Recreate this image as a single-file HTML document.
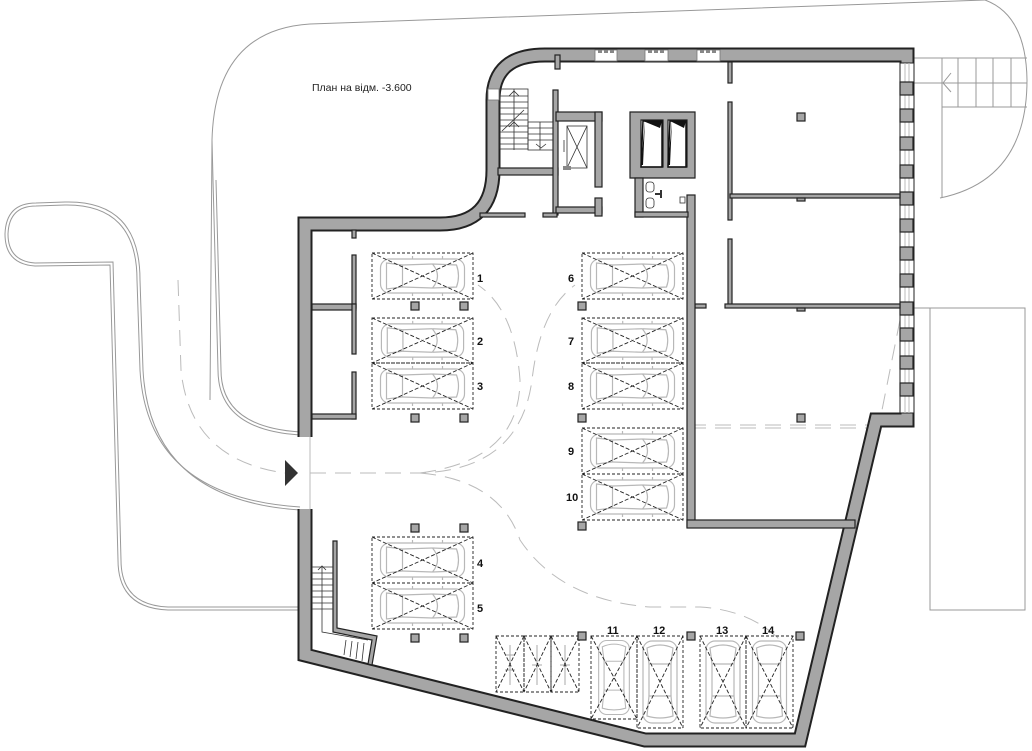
<!DOCTYPE html>
<html><head><meta charset="utf-8"><style>
html,body{margin:0;padding:0;background:#fff}
svg{display:block}
text{font-family:"Liberation Sans",sans-serif}
</style></head><body>
<svg width="1032" height="751" viewBox="0 0 1032 751" xmlns="http://www.w3.org/2000/svg">
<defs>
<symbol id="carH" viewBox="0 0 100 46">
 <g fill="none" stroke="#b8b8b8" stroke-width="1.2">
  <rect x="8" y="6" width="84" height="34" rx="9"/>
  <path d="M14 10 L30 12 L30 34 L14 36 Z"/>
  <path d="M60 11 Q70 23 60 35 M60 11 L84 12 Q88 23 84 34 L60 35"/>
  <path d="M30 12 L60 11 M30 34 L60 35"/>
  <path d="M40 6 L40 3 M70 6 L70 3 M40 40 L40 43 M70 40 L70 43"/>
 </g>
</symbol>
<symbol id="carV" viewBox="0 0 46 92">
 <g fill="none" stroke="#b8b8b8" stroke-width="1.2">
  <rect x="6" y="5" width="34" height="82" rx="9"/>
  <path d="M10 12 Q23 6 36 12 L34 28 L12 28 Z"/>
  <path d="M12 60 L34 60 L36 80 Q23 84 10 80 Z"/>
  <path d="M12 28 L12 60 M34 28 L34 60"/>
 </g>
</symbol>
</defs>

<!-- site outlines -->
<g fill="none" stroke="#999" stroke-width="1">
 <path d="M210 400 L212 140 Q215 30 310 24 L985 0"/>
 <path d="M985 0 Q1026 15 1027 80 Q1027 180 940 198"/>
 <path d="M913 58 L1027 58 M913 83 L1027 83 M942 107 L1027 107 M942 58 L942 198 M958 58 L958 107 M976 58 L976 107 M993 58 L993 107 M1011 58 L1011 107"/>
 <path d="M951 73 L943 83 L951 92"/>
 <path d="M300 610 L168 610 Q118 608 118 560 L110 265 L35 266 Q5 264 5 234 Q6 203 36 203 L65 202 Q140 200 140 280 L143 370 Q150 500 300 510"/>
 <path d="M300 607 L168 607 Q121 605 121 560 L113 262 L35 263 Q8 261 8 234 Q9 206 36 206 L65 205 Q137 204 137 280 L140 370 Q147 497 300 507"/>
 <path d="M300 435 Q218 430 218 370 L213 180 L212 140"/>
 <path d="M300 432 Q221 427 221 370 L216 180"/>
 <rect x="930" y="308" width="95" height="302"/>
 <path d="M913 308 L930 308"/>
 <path d="M310 437 L310 509" stroke="#bbb"/>
</g>
<!-- driving paths -->
<g fill="none" stroke="#bbb" stroke-width="1" stroke-dasharray="16 9">
 <path d="M178 280 L181 370 Q190 460 285 473"/>
 <path d="M310 473 L420 473 Q520 470 532 380 Q540 310 575 285"/>
 <path d="M420 473 Q520 460 520 380 Q515 310 478 285"/>
 <path d="M420 473 Q500 480 520 540 Q560 600 650 607 L700 607 Q750 610 780 640"/>
 <path d="M690 425 L880 425 M690 428 L880 428"/>
 <path d="M900 320 L880 420"/>
</g>

<!-- outer wall -->
<g fill="none" stroke-linejoin="miter">
 <path d="M305 437 L305 224 L440 224 Q493 224 493 170 L493 100 Q493 55 545 55 L907 55 L907 420 L876 420 L800 740 L645 740 L305 655 L305 509" stroke="#222" stroke-width="15"/>
 <path d="M305 437 L305 224 L440 224 Q493 224 493 170 L493 100 Q493 55 545 55 L907 55 L907 420 L876 420 L800 740 L645 740 L305 655 L305 509" stroke="#a6a6a6" stroke-width="11"/>
</g>
<!-- windows top -->
<g fill="#fff" stroke="#777" stroke-width="0.8">
 <rect x="595" y="50" width="22" height="11"/><rect x="645" y="50" width="23" height="11"/><rect x="697" y="50" width="23" height="11"/>
 <rect x="488" y="89" width="11" height="11"/>
</g>
<g fill="#888"><rect x="598" y="50" width="4" height="3"/><rect x="604" y="50" width="4" height="3"/><rect x="610" y="50" width="4" height="3"/>
<rect x="648" y="50" width="4" height="3"/><rect x="654" y="50" width="4" height="3"/><rect x="660" y="50" width="4" height="3"/>
<rect x="700" y="50" width="4" height="3"/><rect x="706" y="50" width="4" height="3"/><rect x="712" y="50" width="4" height="3"/></g>
<!-- right wall windows -->
<rect x="900" y="63" width="14" height="350" fill="#fff" stroke="#222" stroke-width="1"/>
<path d="M905 63 L905 413 M909 63 L909 413" stroke="#bbb" stroke-width="1"/>
<g fill="#a6a6a6" stroke="#222" stroke-width="1.2">
 <rect x="900" y="82" width="13" height="13"/><rect x="900" y="109" width="13" height="13"/><rect x="900" y="137" width="13" height="13"/><rect x="900" y="165" width="13" height="13"/>
 <rect x="900" y="192" width="13" height="13"/><rect x="900" y="219" width="13" height="13"/><rect x="900" y="247" width="13" height="13"/><rect x="900" y="274" width="13" height="13"/>
 <rect x="900" y="302" width="13" height="13"/><rect x="900" y="328" width="13" height="13"/><rect x="900" y="356" width="13" height="13"/><rect x="900" y="383" width="13" height="13"/>
</g>

<!-- interior walls -->
<g fill="#a6a6a6" stroke="#222" stroke-width="1.2">
 <rect x="728" y="62" width="4" height="21"/>
 <rect x="728" y="102" width="4" height="118"/>
 <rect x="728" y="239" width="4" height="68"/>
 <rect x="730" y="194" width="170" height="4"/>
 <rect x="725" y="304" width="175" height="4"/>
 <rect x="695" y="304" width="11" height="4"/>
 <rect x="797" y="198" width="8" height="3"/><rect x="797" y="308" width="8" height="3"/>
 <rect x="687" y="195" width="8" height="332"/>
 <rect x="687" y="520" width="168" height="8"/>
 <rect x="498" y="168" width="60" height="7"/>
 <rect x="553" y="90" width="5" height="125"/>
 <rect x="556" y="112" width="46" height="9"/>
 <rect x="595" y="112" width="7" height="75"/>
 <rect x="556" y="207" width="46" height="6"/>
 <rect x="595" y="198" width="7" height="18"/>
 <rect x="480" y="213" width="45" height="4"/>
 <rect x="543" y="213" width="14" height="4"/>
 <rect x="555" y="55" width="5" height="14"/>
 <path d="M630 112 L695 112 L695 178 L630 178 Z M641 120 L641 167 L663 167 L663 120 Z M668 120 L668 167 L687 167 L687 120 Z" fill-rule="evenodd"/>
 <rect x="635" y="178" width="8" height="39"/>
 <rect x="635" y="212" width="53" height="5"/>
 <rect x="352" y="230" width="4" height="8"/>
 <rect x="352" y="255" width="4" height="53"/>
 <rect x="312" y="304" width="44" height="6"/>
 <rect x="352" y="304" width="4" height="50"/>
 <rect x="352" y="372" width="4" height="47"/>
 <rect x="312" y="414" width="44" height="5"/>
 <path d="M333 541 L337 541 L337 628 L377 636 L372 665 L368 664 L372 640 L333 632 Z"/>
</g>
<path d="M643 121 L662 121 L660 128 Z M645 121 L643 165 L641 165 Z" fill="#111"/>
<path d="M670 121 L686 121 L684 128 Z M672 121 L670 165 L668 165 Z" fill="#111"/>
<path d="M643 121 L662 121 L662 167 L641 167 Z" fill="none" stroke="#111" stroke-width="1.5"/>
<path d="M670 121 L686 121 L686 167 L668 167 Z" fill="none" stroke="#111" stroke-width="1.5"/>
<g fill="none" stroke="#333" stroke-width="0.8">
 <rect x="646" y="182" width="8" height="10" rx="3"/><rect x="646" y="198" width="8" height="10" rx="3"/>
 <path d="M661 190 L661 198 M655 194 L661 194" stroke-width="2"/>
 <rect x="680" y="197" width="5" height="6"/>
</g>
<g fill="none" stroke="#333" stroke-width="0.8">
 <rect x="500" y="89" width="28" height="60"/>
 <rect x="528" y="122" width="25" height="28"/>
 <path d="M500 96 H528 M500 102 H528 M500 108 H528 M500 114 H528 M500 120 H528 M500 126 H528 M500 132 H528 M500 138 H528 M500 144 H528"/>
 <path d="M528 128 H553 M528 134 H553 M528 140 H553 M540 122 V150 M514 89 V150 M502 131 L524 110"/>
 <path d="M509 96 L514 91 L519 96 M509 127 L514 122 L519 127 M536 144 L541 148 L546 144"/>
 <rect x="567" y="126" width="20" height="42"/>
 <path d="M567 126 L587 168 M587 126 L567 168 M564 140 V152"/>
</g>
<rect x="563" y="166" width="8" height="4" fill="#888"/>
<g fill="none" stroke="#333" stroke-width="0.8">
 <path d="M312 567 H333 M312 573 H333 M312 579 H333 M312 585 H333 M312 591 H333 M312 597 H333 M312 603 H333 M312 609 H333 M322 567 V632 L368 640"/>
 <path d="M346 640 L344 655 M352 641 L350 657 M358 642 L356 659 M364 643 L362 661"/>
 <path d="M318 570 L322 566 L326 570"/>
</g>

<path d="M285 460 L298 473 L285 486 Z" fill="#333"/>

<g fill="none" stroke="#222" stroke-width="0.9" stroke-dasharray="3 2">
 <rect x="372" y="253" width="101" height="46"/>
 <rect x="372" y="318" width="101" height="45"/>
 <rect x="372" y="363" width="101" height="46"/>
 <rect x="582" y="253" width="101" height="46"/>
 <rect x="582" y="318" width="101" height="45"/>
 <rect x="582" y="363" width="101" height="46"/>
 <rect x="582" y="428" width="101" height="46"/>
 <rect x="582" y="474" width="101" height="46"/>
 <rect x="372" y="537" width="101" height="46"/>
 <rect x="372" y="583" width="101" height="46"/>
 <rect x="496" y="636" width="28" height="56"/><rect x="524" y="636" width="27" height="56"/><rect x="551" y="636" width="28" height="56"/>
 <rect x="591" y="636" width="46" height="83"/>
 <rect x="637" y="636" width="46" height="92"/>
 <rect x="700" y="636" width="46" height="92"/>
 <rect x="746" y="636" width="47" height="92"/>
</g>
<g>
 <use href="#carH" x="372" y="253" width="101" height="46"/>
 <use href="#carH" x="372" y="318" width="101" height="45"/>
 <use href="#carH" x="372" y="363" width="101" height="46"/>
 <use href="#carH" x="582" y="253" width="101" height="46"/>
 <use href="#carH" x="582" y="318" width="101" height="45"/>
 <use href="#carH" x="582" y="363" width="101" height="46"/>
 <use href="#carH" x="582" y="428" width="101" height="46"/>
 <use href="#carH" x="582" y="474" width="101" height="46"/>
 <use href="#carH" x="372" y="537" width="101" height="46"/>
 <use href="#carH" x="372" y="583" width="101" height="46"/>
 <use href="#carV" x="591" y="636" width="46" height="83"/>
 <use href="#carV" x="637" y="636" width="46" height="92"/>
 <use href="#carV" x="700" y="636" width="46" height="92"/>
 <use href="#carV" x="746" y="636" width="47" height="92"/>
</g>
<g fill="none" stroke="#aaa" stroke-width="1">
 <path d="M510 645 V685 M505 655 H515 M505 670 H515"/>
 <path d="M537 645 V685 M532 665 H542"/>
 <path d="M565 645 V685 M560 665 H570"/>
</g>
<g fill="none" stroke="#222" stroke-width="0.9" stroke-dasharray="4 2">
 <path d="M372 253 L473 299 M473 253 L372 299"/>
 <path d="M372 318 L473 363 M473 318 L372 363"/>
 <path d="M372 363 L473 409 M473 363 L372 409"/>
 <path d="M582 253 L683 299 M683 253 L582 299"/>
 <path d="M582 318 L683 363 M683 318 L582 363"/>
 <path d="M582 363 L683 409 M683 363 L582 409"/>
 <path d="M582 428 L683 474 M683 428 L582 474"/>
 <path d="M582 474 L683 520 M683 474 L582 520"/>
 <path d="M372 537 L473 583 M473 537 L372 583"/>
 <path d="M372 583 L473 629 M473 583 L372 629"/>
 <path d="M496 636 L524 692 M524 636 L496 692 M524 636 L551 692 M551 636 L524 692 M551 636 L579 692 M579 636 L551 692"/>
 <path d="M591 636 L637 719 M637 636 L591 719"/>
 <path d="M637 636 L683 728 M683 636 L637 728"/>
 <path d="M700 636 L746 728 M746 636 L700 728"/>
 <path d="M746 636 L793 728 M793 636 L746 728"/>
</g>
<g fill="#a6a6a6" stroke="#222" stroke-width="1.2">
 <rect x="797" y="113" width="8" height="8"/>
 <rect x="411" y="302" width="8" height="8"/><rect x="460" y="302" width="8" height="8"/><rect x="578" y="302" width="8" height="8"/>
 <rect x="411" y="414" width="8" height="8"/><rect x="460" y="414" width="8" height="8"/><rect x="578" y="414" width="8" height="8"/><rect x="797" y="414" width="8" height="8"/>
 <rect x="411" y="524" width="8" height="8"/><rect x="460" y="524" width="8" height="8"/><rect x="578" y="522" width="8" height="8"/>
 <rect x="411" y="634" width="8" height="8"/><rect x="460" y="634" width="8" height="8"/><rect x="578" y="632" width="8" height="8"/>
 <rect x="687" y="632" width="8" height="8"/><rect x="796" y="632" width="8" height="8"/>
</g>
<g font-size="11" font-weight="bold" fill="#111">
 <text x="477" y="282">1</text><text x="477" y="345">2</text><text x="477" y="390">3</text>
 <text x="568" y="282">6</text><text x="568" y="345">7</text><text x="568" y="390">8</text>
 <text x="568" y="455">9</text><text x="566" y="501">10</text>
 <text x="477" y="567">4</text><text x="477" y="612">5</text>
 <text x="607" y="634">11</text><text x="653" y="634">12</text><text x="716" y="634">13</text><text x="762" y="634">14</text>
</g>
<text x="312" y="91" font-size="10.5" fill="#222">План на відм. -3.600</text>
</svg>
</body></html>
